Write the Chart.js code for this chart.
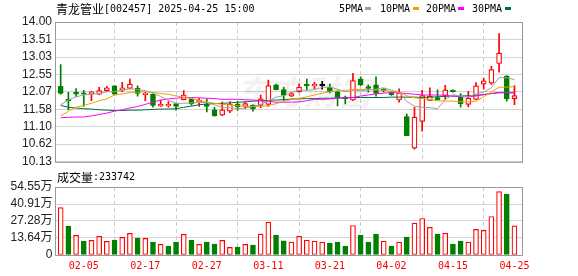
<!DOCTYPE html>
<html>
<head>
<meta charset="utf-8">
<script src="https://cdn.jsdelivr.net/npm/chart.js@4.4.1/dist/chart.umd.min.js"></script>
<style>
  html, body { margin: 0; padding: 0; background: #fff; }
  #wrap { position: relative; width: 578px; height: 276px; }
  canvas { position: absolute; left: 0; }
  #kline { top: 0; }
  #vol { top: 172px; }
</style>
</head>
<body>
<div id="wrap">
  <canvas id="kline" width="578" height="172"></canvas>
  <canvas id="vol" width="578" height="104"></canvas>
</div>
<script>
const stockName = "青龙管业";
const stockCode = "[002457]";
const stamp = "2025-04-25 15:00";
const volTitle = "成交量";
const lastVolume = 233742;
const maNames = ["5PMA", "10PMA", "20PMA", "30PMA"];

const dates = [
  "01-23", "01-24", "01-27",
  "02-05", "02-06", "02-07", "02-10", "02-11", "02-12", "02-13", "02-14",
  "02-17", "02-18", "02-19", "02-20", "02-21", "02-24", "02-25", "02-26",
  "02-27", "02-28", "03-03", "03-04", "03-05", "03-06", "03-07", "03-10",
  "03-11", "03-12", "03-13", "03-14", "03-17", "03-18", "03-19", "03-20",
  "03-21", "03-24", "03-25", "03-26", "03-27", "03-28", "03-31", "04-01",
  "04-02", "04-03", "04-07", "04-08", "04-09", "04-10", "04-11", "04-14",
  "04-15", "04-16", "04-17", "04-18", "04-21", "04-22", "04-23", "04-24", "04-25"
];
const tickLabels = ["02-05", "02-17", "02-27", "03-11", "03-21", "04-02", "04-15", "04-25"];
const priceTicks = [10.13, 10.62, 11.10, 11.58, 12.07, 12.55, 13.03, 13.51, 14.00];
const volTicks = [0, 13.64, 27.28, 40.91, 54.55];

const opens = [12.22, 11.85, 12.05, 12.03, 12.00, 12.00, 12.10, 12.23, 12.11, 12.16,
  12.17, 11.99, 12.00, 11.67, 11.68, 11.74, 11.85, 11.87, 11.79, 11.73,
  11.57, 11.42, 11.53, 11.73, 11.66, 11.70, 11.69, 11.72, 12.26, 12.13,
  11.95, 12.07, 12.25, 12.23, 12.24, 12.20, 12.07, 11.90, 11.84, 12.42,
  12.21, 12.26, 12.12, 12.05, 11.84, 11.38, 10.51, 11.25, 11.83, 11.91,
  11.96, 12.11, 11.93, 11.72, 11.86, 12.28, 12.31, 12.85, 12.50, 11.88];
const highs = [12.82, 12.05, 12.16, 12.11, 12.08, 12.19, 12.22, 12.24, 12.33, 12.42,
  12.23, 12.05, 12.01, 11.84, 11.80, 11.75, 12.10, 11.88, 11.89, 11.87,
  11.64, 11.78, 11.80, 11.80, 11.79, 11.71, 11.98, 12.39, 12.28, 12.20,
  12.05, 12.29, 12.42, 12.33, 12.36, 12.28, 12.08, 11.95, 12.58, 12.48,
  12.26, 12.48, 12.16, 12.07, 12.15, 11.45, 11.64, 12.11, 12.18, 12.12,
  12.25, 12.12, 12.02, 12.08, 12.32, 12.45, 12.77, 13.68, 12.52, 12.24];
const lows = [12.00, 11.57, 11.93, 11.66, 11.82, 11.99, 12.07, 11.99, 12.07, 12.15,
  11.95, 11.82, 11.64, 11.66, 11.64, 11.56, 11.84, 11.70, 11.66, 11.51,
  11.39, 11.41, 11.49, 11.55, 11.60, 11.53, 11.63, 11.66, 12.12, 11.83,
  11.93, 12.06, 12.11, 12.15, 12.14, 12.04, 11.68, 11.73, 11.82, 12.24,
  12.06, 11.95, 12.06, 11.97, 11.78, 10.85, 10.48, 10.98, 11.82, 11.84,
  11.86, 12.06, 11.64, 11.65, 11.85, 12.14, 12.27, 12.61, 11.81, 11.71];
const closes = [12.02, 11.82, 12.00, 12.00, 12.07, 12.10, 12.18, 12.00, 12.18, 12.28,
  12.02, 12.00, 11.69, 11.73, 11.69, 11.66, 11.98, 11.73, 11.80, 11.66,
  11.40, 11.57, 11.73, 11.65, 11.74, 11.60, 11.87, 12.24, 12.13, 11.97,
  12.02, 12.20, 12.23, 12.24, 12.24, 12.07, 11.91, 11.88, 12.38, 12.26,
  12.16, 12.02, 12.10, 11.99, 12.04, 10.85, 11.37, 11.96, 11.95, 11.85,
  12.12, 12.07, 11.74, 11.89, 12.23, 12.37, 12.68, 13.14, 11.87, 11.96];

const ma5 = [11.71, 11.84, 11.93, 11.98, 12.00, 12.02, 12.07, 12.07, 12.11, 12.15,
  12.13, 12.10, 12.03, 11.94, 11.83, 11.75, 11.75, 11.76, 11.77, 11.77,
  11.71, 11.63, 11.63, 11.60, 11.62, 11.66, 11.72, 11.82, 11.92, 11.96,
  12.05, 12.11, 12.11, 12.13, 12.19, 12.20, 12.14, 12.07, 12.10, 12.10,
  12.12, 12.14, 12.18, 12.11, 12.06, 11.80, 11.67, 11.64, 11.63, 11.60,
  11.85, 11.99, 11.95, 11.93, 12.01, 12.06, 12.18, 12.46, 12.46, 12.40];
const ma10 = [11.40, 11.53, 11.64, 11.69, 11.75, 11.82, 11.87, 11.98, 12.01, 12.05,
  12.06, 12.07, 12.05, 12.02, 12.00, 11.95, 11.92, 11.88, 11.83, 11.79,
  11.75, 11.72, 11.70, 11.68, 11.67, 11.66, 11.66, 11.69, 11.74, 11.80,
  11.85, 11.89, 11.93, 11.98, 12.03, 12.07, 12.10, 12.11, 12.13, 12.13,
  12.13, 12.12, 12.11, 12.08, 12.05, 11.96, 11.90, 11.88, 11.85, 11.82,
  11.81, 11.81, 11.79, 11.79, 11.81, 11.93, 12.06, 12.19, 12.20, 12.21];
const ma20 = [11.35, 11.36, 11.37, 11.37, 11.40, 11.44, 11.48, 11.53, 11.57, 11.62,
  11.66, 11.72, 11.78, 11.84, 11.87, 11.89, 11.91, 11.91, 11.90, 11.89,
  11.88, 11.86, 11.86, 11.86, 11.85, 11.84, 11.82, 11.80, 11.78, 11.78,
  11.78, 11.79, 11.82, 11.86, 11.86, 11.87, 11.89, 11.90, 11.91, 11.95,
  11.98, 12.01, 12.03, 12.05, 12.04, 12.02, 12.00, 11.98, 11.98, 11.98,
  11.97, 11.95, 11.93, 11.93, 11.95, 11.99, 12.02, 12.05, 12.05, 12.04];
const ma30 = [11.69, 11.64, 11.62, 11.60, 11.59, 11.57, 11.56, 11.55, 11.55, 11.56,
  11.56, 11.57, 11.58, 11.59, 11.59, 11.60, 11.64, 11.67, 11.71, 11.73,
  11.74, 11.75, 11.76, 11.78, 11.79, 11.81, 11.82, 11.83, 11.84, 11.85,
  11.87, 11.87, 11.88, 11.88, 11.89, 11.89, 11.90, 11.90, 11.91, 11.91,
  11.91, 11.91, 11.91, 11.92, 11.92, 11.92, 11.92, 11.91, 11.92, 11.93,
  11.94, 11.95, 11.95, 11.96, 11.97, 11.99, 12.02, 12.04, 12.04, 12.04];

// volume in 万 shares, and its colour direction (1 red, -1 green)
const vols = [38.1, 23.2, 15.7, 11.2, 11.7, 14.9, 10.9, 12.0, 14.1, 17.3,
  13.6, 13.3, 10.4, 8.5, 7.2, 10.4, 16.5, 12.0, 8.5, 10.4,
  8.8, 11.7, 6.1, 6.4, 8.5, 8.0, 16.8, 26.3, 16.0, 11.4,
  10.4, 14.9, 12.0, 11.2, 10.4, 9.6, 10.4, 7.2, 23.7, 16.0,
  10.4, 16.8, 11.2, 7.2, 10.4, 14.4, 25.6, 29.3, 22.1, 16.8,
  17.6, 8.8, 11.2, 10.4, 20.5, 19.7, 30.9, 50.8, 48.7, 23.3742];
const volDir = [1, -1, 1, -1, 1, 1, 1, -1, 1, 1,
  -1, 1, -1, 1, -1, -1, 1, -1, 1, -1,
  -1, 1, 1, -1, 1, -1, 1, 1, -1, -1,
  1, 1, 1, 1, 1, -1, -1, -1, 1, -1,
  -1, -1, 1, -1, 1, -1, 1, 1, 1, -1,
  1, -1, -1, 1, 1, 1, 1, 1, -1, 1];

const UP = "#ff0000", DOWN = "#008000", FLAT = "#000000";
const maColors = ["#a0a0a0", "#f0a000", "#ff00ff", "#00703c"];
const tickIdx = tickLabels.map(d => dates.indexOf(d));
const candleColor = opens.map((o, i) => closes[i] > o ? UP : (closes[i] < o ? DOWN : FLAT));
const MONO = '"DejaVu Sans Mono", monospace';
const CJK = '"Noto Sans CJK SC", sans-serif';

function xAxis(showLabels) {
  return {
    type: "linear", min: -0.74, max: 59.98, offset: false,
    grid: { color: "#cccccc", drawTicks: false },
    border: { display: false, dash: [4, 3] },
    afterBuildTicks: s => { s.ticks = tickIdx.map(v => ({ value: v })); },
    afterFit: s => { s.height = showLabels ? 21 : 0; },
    ticks: {
      display: showLabels, autoSkip: false, maxRotation: 0, padding: 5,
      color: "#ff0000", font: { family: MONO, size: 10 },
      callback: v => tickLabels[tickIdx.indexOf(v)]
    }
  };
}

const framePlugin = {
  id: "frame",
  afterDatasetsDraw(chart) {
    const a = chart.chartArea, ctx = chart.ctx;
    ctx.save();
    ctx.strokeStyle = "#999999";
    ctx.lineWidth = 1;
    ctx.strokeRect(a.left + 0.5, a.top + 0.5, a.right - a.left, a.bottom - a.top);
    ctx.restore();
  }
};

const headerPlugin = {
  id: "header",
  beforeDatasetsDraw(chart) {
    // faint site watermark
    const ctx = chart.ctx;
    ctx.save();
    ctx.fillStyle = "rgba(0,0,0,0.05)";
    ctx.font = "italic bold 34px " + CJK;
    ctx.textBaseline = "middle";
    ctx.fillText("东方财富", 236, 92);
    ctx.restore();
  },
  afterDraw(chart) {
    const ctx = chart.ctx;
    ctx.save();
    ctx.textBaseline = "middle";
    ctx.fillStyle = "#000";
    ctx.font = "12px " + CJK;
    ctx.fillText(stockName, 56, 9);
    ctx.font = "10px " + MONO;
    ctx.fillText(stockCode + " " + stamp, 104, 9);
    const textX = [339, 380, 426, 472], boxX = [365, 413, 458, 505];
    maNames.forEach((n, i) => {
      ctx.fillStyle = "#000";
      ctx.fillText(n, textX[i], 9);
      ctx.fillStyle = maColors[i];
      ctx.fillRect(boxX[i], 7, 6, 3);
    });
    ctx.restore();
  }
};

const volLabelPlugin = {
  id: "volLabels",
  afterDraw(chart) {
    const ctx = chart.ctx, y = chart.scales.y;
    ctx.save();
    ctx.textBaseline = "middle";
    ctx.fillStyle = "#000";
    ctx.font = "12px " + CJK;
    ctx.fillText(volTitle, 57, 5.5);
    ctx.font = "10px " + MONO;
    ctx.fillText(":" + lastVolume, 93, 5.5);
    ctx.fillStyle = "#222";
    ctx.textAlign = "right";
    ctx.font = '12px "Liberation Sans", ' + CJK;
    volTicks.forEach(v => {
      const txt = v === 0 ? "0" : v.toFixed(2) + "万";
      ctx.fillText(txt, 52.5, y.getPixelForValue(v));
    });
    ctx.restore();
  }
};

const common = {
  responsive: false, animation: false, devicePixelRatio: 1, events: [],
  plugins: { legend: { display: false }, tooltip: { enabled: false } }
};

const lineSet = (vals, color) => ({
  type: "line", order: 0, data: vals.map((v, i) => ({ x: i, y: v })),
  borderColor: color, borderWidth: 1, pointRadius: 0, tension: 0, fill: false
});

new Chart(document.getElementById("kline"), {
  type: "bar",
  data: {
    datasets: [
      lineSet(ma5, maColors[0]),
      lineSet(ma10, maColors[1]),
      lineSet(ma20, maColors[2]),
      lineSet(ma30, maColors[3]),
      {
        type: "bar", order: 1, grouped: false, barThickness: 5, minBarLength: 1.5,
        data: opens.map((o, i) => ({ x: i, y: [o, closes[i]] })),
        backgroundColor: candleColor.map(c => c === UP ? "#ffffff" : c),
        borderColor: candleColor, borderWidth: 1.2, borderSkipped: false
      },
      {
        type: "bar", order: 2, grouped: false, barThickness: 1,
        data: lows.map((l, i) => ({ x: i, y: [l, highs[i]] })),
        backgroundColor: candleColor, borderWidth: 0
      }
    ]
  },
  options: Object.assign({}, common, {
    layout: { padding: { left: 0, right: 56, top: 22, bottom: 7 } },
    scales: {
      x: xAxis(false),
      y: {
        min: 10.13, max: 14.00,
        afterBuildTicks: s => { s.ticks = priceTicks.map(v => ({ value: v })); },
        afterFit: s => { s.width = 55; },
        grid: { color: "#d4d4d4", drawTicks: false },
        border: { display: false },
        ticks: {
          padding: 3, color: "#222", font: { family: '"Liberation Sans", Arial', size: 12 },
          callback: v => v.toFixed(2)
        }
      }
    }
  }),
  plugins: [headerPlugin, framePlugin]
});

new Chart(document.getElementById("vol"), {
  type: "bar",
  data: {
    datasets: [{
      grouped: false, barThickness: 5,
      data: vols.map((v, i) => ({ x: i, y: v })),
      backgroundColor: volDir.map(d => d > 0 ? "#ffffff" : DOWN),
      borderColor: volDir.map(d => d > 0 ? UP : DOWN),
      borderWidth: 1.2, borderSkipped: false
    }]
  },
  options: Object.assign({}, common, {
    layout: { padding: { left: 0, right: 56, top: 15, bottom: 0 } },
    scales: {
      x: xAxis(true),
      y: {
        min: 0, max: 54.55,
        afterBuildTicks: s => { s.ticks = volTicks.map(v => ({ value: v })); },
        afterFit: s => { s.width = 55; },
        grid: { color: "#d4d4d4", drawTicks: false },
        border: { display: false },
        ticks: { display: false }
      }
    }
  }),
  plugins: [volLabelPlugin, framePlugin]
});
</script>
</body>
</html>
